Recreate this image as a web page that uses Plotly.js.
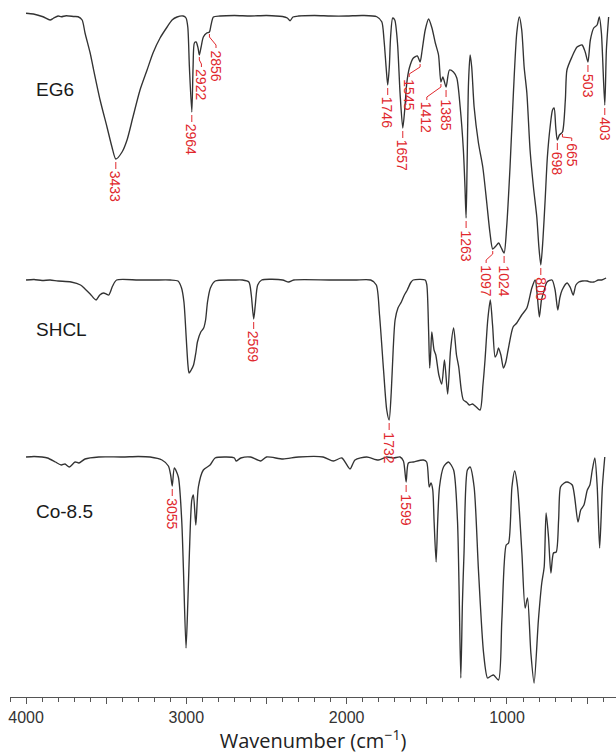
<!DOCTYPE html>
<html><head><meta charset="utf-8">
<script src="https://cdn.plot.ly/plotly-3.0.1.min.js"></script>
<style>html,body{margin:0;padding:0;background:#fff}</style>
</head><body><div id="chart" style="width:616px;height:754px"></div>
<script>
// ---- data (relative transmittance, a.u.) ----
const eg6Wn = [4000,3954,3894,3850,3829,3800,3780,3750,3700,3675,3650,3632,3600,3582,3538,3495,3464,3440,3401,3370,3333,3289,3245,3208,3164,3120,3089,3058,3020,3002,2991,2981,2966,2958,2950,2939,2927,2919,2908,2894,2873,2856,2846,2831,2790,2700,2600,2500,2400,2370,2353,2335,2300,2200,2100,2000,1900,1812,1781,1767,1754,1744,1734,1726,1713,1700,1683,1667,1650,1638,1625,1609,1584,1559,1542,1529,1510,1489,1468,1447,1427,1412,1400,1380,1359,1334,1313,1292,1272,1262,1255,1249,1240,1230,1220,1205,1178,1151,1126,1106,1089,1069,1052,1035,1018,1002,981,960,939,923,908,893,876,856,835,814,801,789,776,762,748,731,716,706,696,686,673,654,636,626,595,563,532,512,495,480,459,438,424,411,390,380,366];
const eg6T  = [101.1,100.8,99.7,98.4,99.1,100,99.7,100.1,99.8,99.7,98.4,93.2,85.2,79.6,66.4,55.6,47.6,42.8,45.6,50.4,59.6,70.4,78.4,85.2,91.2,95.6,98.4,99.6,100,99.2,95.6,79.6,61.6,79.6,89.2,89.6,87.2,84.4,87.6,91.6,93.2,93.6,96.4,99.6,100,100.2,100,100.2,99.8,99.2,98.1,99.6,100,100.2,100,100,100.2,99.7,97.7,90.4,79.6,72.4,79.6,91.6,99.2,98.4,89.2,69.2,55.2,62.4,73.2,79.2,83.2,84,81.6,86.4,94.4,98.8,95.2,89.2,84.4,73.6,75.6,71.6,78.4,77.6,75.2,63.6,46.4,31.6,19.2,39.6,73.2,84.4,79.6,63.6,49.2,39.6,25.2,13.2,6.8,8,9.2,7.2,5.2,15.6,39.6,69.2,93.2,99.6,94.4,79.6,69.2,46.4,31.6,19.6,7.6,0.4,10.4,26.4,43.6,55.6,62.4,63.2,55.6,50.4,52.4,53.6,66.4,78.4,83.6,87.6,88.4,85.6,81.6,90.4,95.2,96.4,99.6,93.2,64.4,86.4,99.6];

const shclWn = [4000,3950,3900,3850,3800,3719,3660,3632,3600,3563,3540,3516,3500,3484,3460,3435,3300,3200,3100,3052,3030,3015,3000,2990,2983,2970,2955,2940,2931,2910,2892,2880,2868,2850,2820,2700,2650,2610,2595,2580,2570,2555,2530,2400,2362,2330,2100,1950,1850,1815,1795,1770,1750,1735,1722,1710,1698,1680,1659,1640,1622,1600,1585,1510,1500,1489,1482,1475,1469,1455,1444,1425,1407,1390,1370,1352,1333,1315,1301,1285,1272,1250,1235,1215,1198,1168,1150,1137,1120,1104,1090,1074,1063,1053,1038,1022,1008,993,962,939,908,876,845,824,810,798,785,771,750,719,700,683,670,656,625,605,587,570,552,530,499,480,458,430,409,382];
const shclT  = [100,100.2,99.8,100,99.6,99.2,98,96.4,94.4,92,94,94.8,94.4,94,97.6,100,100,100,100,99.6,96.8,91.2,76,66,62.8,64,66,71.2,75.2,79.2,80.8,84,91.2,96.8,99.6,100,100,99.2,94,84.4,90,98,100,100,99.2,100,100,100,100,98,86,64,48,44,55,72,84,88.8,91.2,94,96,99,100,100,98,80,64.8,72,79.2,72,70,62,58.4,68,54.4,72,80.8,70,65.2,56,52,51,50,50.4,49.6,48,58,68,84,92,82,69.2,70.4,72.8,70,64.8,67,72,81.2,82.8,86,88.8,96.8,100,93,85.2,92,95.2,99.2,100,96,88,93,96,98.8,97,94,98,99.2,99.6,99.6,99.2,99.2,100,100,100.8];

const coWn = [4000,3950,3900,3866,3817,3780,3757,3730,3694,3670,3632,3546,3400,3300,3226,3152,3112,3098,3088,3075,3050,3029,3018,3002,2991,2981,2966,2956,2941,2925,2894,2852,2821,2750,2700,2690,2660,2600,2536,2500,2397,2300,2147,2083,2030,1979,1948,1875,1802,1750,1708,1667,1646,1629,1615,1584,1522,1501,1485,1474,1463,1455,1442,1432,1421,1396,1365,1333,1309,1299,1288,1278,1268,1247,1230,1205,1178,1146,1121,1100,1084,1053,1032,1005,990,969,952,934,907,887,872,851,831,804,783,768,756,741,726,710,693,678,666,645,625,593,557,540,520,499,483,468,452,437,422,405,390];
const coT  = [100,100.2,100,99.6,98,96.8,97.2,96,98,97.6,99.2,100,100,100.2,100,98.8,96.4,92.8,88.4,95.6,92,74.8,54.8,23.6,41.2,61.6,82.8,84.8,72.8,88,94.8,96.8,99.6,100,99.6,98.4,99.6,100,98.4,100,99.2,100,100,98.4,99.6,95.2,98.8,100,98.8,100,99.6,100,98.4,90,97.6,98,98.8,98,88,89.6,86.8,74.8,58,74.8,88,96,98,94.8,74.8,48,11.6,41.6,61.6,94.8,96,88,54.8,21.6,11.6,12.4,12.8,10.8,34.8,64.8,65.6,88,94.4,88,61.6,39.6,43.6,21.6,9.6,34.8,49.6,56,77.6,68,53.6,61.6,62,74.8,88,89.5,90,88.8,74,78.8,80.8,86.8,88.8,94.8,99.6,88,63.6,88,100];

const seriesNames   = ['EG6', 'SHCL', 'Co-8.5'];
const seriesOffsets = [172.4, 66.8, -4];      // stacking offsets (a.u.)
const nameLevels    = [70.8, 80.4, 78.4];     // level of the name label on each trace's own scale

const tickValues = [4000, 3000, 2000, 1000];
const tickLabels = ['4000', '3000', '2000', '1000'];
const midTickValues = [3500, 2500, 1500, 500];

// peak labels: [series index, text, peak wavenumber]
const peakLabels = [
  [0,'3433',3440],[0,'2964',2966],[0,'1746',1744],[0,'1657',1650],[0,'1385',1380],
  [0,'1263',1255],[0,'1024',1018],[0,'800',789],[0,'698',686],[0,'503',495],[0,'403',390],
  [1,'2569',2580],[1,'1732',1735],
  [2,'3055',3088],[2,'1599',1629]
];
// bent-leader labels: [series index, text, peak wavenumber, label wavenumber, drop px]
const bentLabels = [
  [0,'2922',2919,2906,12],[0,'2856',2856,2815,16],[0,'1545',1542,1610,15],
  [0,'1412',1412,1500,18],[0,'1097',1089,1130,14],[0,'665',654,596,9]
];

// ---- build ----
const allWn = [eg6Wn, shclWn, coWn];
const allT  = [eg6T, shclT, coT];
const RED = '#e0282d';
const plotH = 697, yMax = 278.8, upp = yMax / plotH;   // units per pixel

const traces = allWn.map((wn, i) => ({
  x: wn, y: allT[i].map(v => v + seriesOffsets[i]),
  type: 'scatter', mode: 'lines', name: seriesNames[i],
  line: {color: '#333333', width: 1.35, shape: 'spline', smoothing: 0.7},
  hoverinfo: 'skip'
}));
// invisible helper trace so the secondary (tick-only) axis is drawn
traces.push({x: [4000], y: [0], xaxis: 'x2', yaxis: 'y', mode: 'markers',
  marker: {opacity: 0}, hoverinfo: 'skip', showlegend: false});

function peakY(si, wn) {
  const idx = allWn[si].indexOf(wn);
  return allT[si][idx] + seriesOffsets[si];
}

const annotations = [];
const shapes = [];
const lbFont = {family: 'Arial, Liberation Sans, sans-serif', size: 14, color: RED};

peakLabels.forEach(([si, txt, wn]) => {
  const y = peakY(si, wn);
  shapes.push({type: 'line', xref: 'x', yref: 'y', x0: wn, x1: wn,
    y0: y - 3 * upp, y1: y - 10 * upp, line: {color: RED, width: 1}});
  annotations.push({x: wn, y: y - 11 * upp, xref: 'x', yref: 'y', text: txt,
    showarrow: false, textangle: 90, xanchor: 'center', yanchor: 'top', font: lbFont, borderpad: 0});
});
bentLabels.forEach(([si, txt, wn, lx, drop]) => {
  const y = peakY(si, wn);
  const p = `M ${wn},${y - 2 * upp} L ${wn},${y - 5 * upp} L ${lx},${y - (drop - 3) * upp} L ${lx},${y - drop * upp}`;
  shapes.push({type: 'path', xref: 'x', yref: 'y', path: p, line: {color: RED, width: 1}});
  annotations.push({x: lx, y: y - (drop + 1) * upp, xref: 'x', yref: 'y', text: txt,
    showarrow: false, textangle: 90, xanchor: 'center', yanchor: 'top', font: lbFont, borderpad: 0});
});
seriesNames.forEach((nm, i) => {
  annotations.push({x: 3950, y: nameLevels[i] + seriesOffsets[i], xref: 'x', yref: 'y', text: nm,
    showarrow: false, xanchor: 'left', yanchor: 'middle',
    font: {family: 'Arial, Liberation Sans, sans-serif', size: 19, color: '#1a1a1a'}});
});

const layout = {
  width: 616, height: 754,
  margin: {l: 10, r: 0, t: 0, b: 57},
  paper_bgcolor: '#ffffff', plot_bgcolor: '#ffffff',
  showlegend: false,
  xaxis: {
    range: [4100, 320], showgrid: false, zeroline: false,
    showline: true, linecolor: '#555555', linewidth: 1.2,
    ticks: 'outside', ticklen: 6, tickwidth: 1, tickcolor: '#555555',
    tickmode: 'array', tickvals: tickValues, ticktext: tickLabels,
    tickfont: {family: 'Arial, Liberation Sans, sans-serif', size: 16, color: '#333333'},
    minor: {dtick: 100, tick0: 0, ticks: 'outside', ticklen: 4, tickwidth: 1, tickcolor: '#555555', showgrid: false},
    title: {text: 'Wavenumber (cm<sup>−1</sup>)', standoff: 4,
      font: {family: 'Open Sans, sans-serif', size: 20, color: '#222222'}}
  },
  xaxis2: {
    overlaying: 'x', matches: 'x', side: 'bottom', anchor: 'y',
    range: [4100, 320], showgrid: false, zeroline: false, showline: false,
    ticks: 'outside', ticklen: 6, tickwidth: 1, tickcolor: '#555555',
    tickmode: 'array', tickvals: midTickValues, showticklabels: false
  },
  yaxis: {range: [0, yMax], visible: false, showgrid: false, zeroline: false},
  annotations: annotations,
  shapes: shapes
};

Plotly.newPlot('chart', traces, layout, {displayModeBar: false, staticPlot: true});
</script>
</body></html>
